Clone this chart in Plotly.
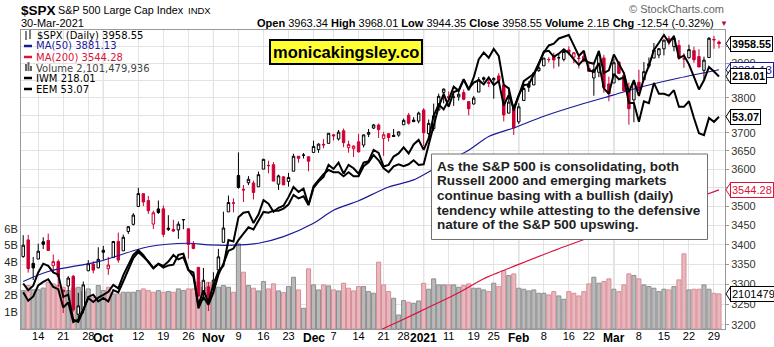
import math
import pandas as pd
import plotly.graph_objects as go

# ---------------- data ----------------
holidays = ["2020-11-26", "2020-12-25", "2021-01-01", "2021-01-18", "2021-02-15"]
dates = [d for d in pd.bdate_range("2020-09-09", "2021-03-30") if d.strftime("%Y-%m-%d") not in holidays]

opens = [3369.82, 3412.60, 3352.70, 3363.56, 3407.73, 3411.23, 3346.86, 3357.38, 3285.57, 3295.75, 3320.11, 3226.14, 3236.66, 3333.90, 3350.92, 3341.21,
         3385.87, 3338.94, 3367.27, 3408.74, 3384.56, 3434.28, 3453.00, 3500.02, 3534.01, 3515.47, 3453.72, 3493.50, 3493.66, 3439.38, 3439.91, 3438.50, 3464.90, 3441.42, 3403.15, 3342.48, 3277.17, 3293.59,
         3296.20, 3336.25, 3406.46, 3485.74, 3508.34, 3583.04, 3543.26, 3563.22, 3562.67, 3552.57, 3600.16, 3610.31, 3612.09, 3559.41, 3579.31, 3566.82, 3594.52, 3635.50, 3638.55, 3634.18,
         3645.87, 3653.78, 3668.28, 3670.94, 3694.73, 3683.05, 3705.98, 3659.13, 3656.08, 3675.27, 3666.41, 3696.25, 3713.65, 3722.39, 3684.28, 3698.08, 3693.42, 3694.03, 3723.03, 3750.01, 3736.19, 3733.27,
         3764.61, 3698.02, 3712.20, 3764.71, 3815.05, 3803.14, 3801.62, 3802.23, 3814.98, 3788.73, 3781.88, 3816.22, 3857.46, 3844.24, 3851.68, 3862.96, 3836.83, 3755.75, 3778.05,
         3731.17, 3791.84, 3840.27, 3836.66, 3878.30, 3892.59, 3910.49, 3920.78, 3916.40, 3911.65, 3939.61, 3918.50, 3915.86, 3921.16, 3885.55, 3857.07, 3873.71, 3915.80, 3839.66,
         3842.51, 3903.64, 3863.99, 3818.53, 3793.58, 3844.39, 3851.93, 3891.99, 3915.54, 3924.52, 3942.96, 3973.59, 3949.57, 3953.50, 3913.14, 3916.48, 3937.60, 3919.93, 3879.34, 3917.12, 3969.31, 3963.34]
highs = [3424.77, 3425.55, 3368.95, 3402.93, 3419.48, 3428.92, 3375.17, 3362.27, 3285.57, 3320.31, 3323.35, 3278.70, 3306.88, 3360.74, 3357.92, 3393.56,
         3397.18, 3369.10, 3409.57, 3431.56, 3426.26, 3447.28, 3482.34, 3549.85, 3534.01, 3527.94, 3489.08, 3515.76, 3502.42, 3476.93, 3464.86, 3460.53, 3466.46, 3441.42, 3409.51, 3342.48, 3341.05, 3304.93,
         3330.14, 3389.49, 3486.25, 3529.05, 3521.58, 3645.99, 3557.22, 3581.16, 3569.02, 3593.66, 3628.51, 3623.11, 3619.09, 3585.22, 3581.23, 3589.81, 3642.31, 3635.50, 3644.31, 3634.18,
         3678.45, 3670.96, 3682.73, 3699.20, 3697.41, 3708.45, 3712.39, 3678.49, 3665.91, 3697.61, 3695.29, 3711.27, 3725.12, 3726.70, 3702.90, 3698.26, 3711.24, 3703.82, 3740.51, 3756.12, 3744.63, 3760.20,
         3769.99, 3737.83, 3783.04, 3811.55, 3826.69, 3817.86, 3810.78, 3820.96, 3823.60, 3788.73, 3804.53, 3859.75, 3861.45, 3852.31, 3859.23, 3870.90, 3836.83, 3830.50, 3778.05,
         3784.32, 3843.09, 3847.51, 3872.42, 3894.56, 3915.77, 3918.35, 3931.50, 3925.99, 3937.23, 3950.43, 3933.61, 3921.98, 3930.41, 3902.92, 3895.98, 3928.65, 3925.02, 3861.08,
         3914.50, 3906.41, 3874.47, 3843.67, 3851.69, 3881.06, 3903.76, 3917.35, 3960.27, 3944.99, 3970.08, 3981.04, 3983.87, 3969.62, 3930.12, 3955.31, 3949.13, 3942.08, 3919.54, 3978.19, 3981.83, 3968.01]
lows = [3366.84, 3329.25, 3310.47, 3363.56, 3389.25, 3384.45, 3328.82, 3292.40, 3229.10, 3270.95, 3232.57, 3209.45, 3228.44, 3332.91, 3327.54, 3340.47,
        3361.39, 3323.69, 3367.27, 3354.54, 3384.56, 3428.15, 3450.00, 3499.61, 3500.86, 3480.55, 3440.89, 3480.45, 3419.93, 3435.65, 3433.06, 3415.34, 3440.45, 3364.86, 3388.71, 3268.89, 3259.82, 3233.94,
        3279.74, 3336.25, 3405.17, 3485.74, 3484.34, 3547.48, 3511.91, 3557.00, 3518.58, 3552.57, 3600.16, 3588.68, 3567.33, 3543.84, 3556.85, 3552.77, 3594.52, 3617.76, 3629.33, 3594.39,
        3645.87, 3644.84, 3657.17, 3670.94, 3678.88, 3678.83, 3660.54, 3645.18, 3633.40, 3645.84, 3659.62, 3688.57, 3710.87, 3685.84, 3636.48, 3676.16, 3689.28, 3689.32, 3723.03, 3723.31, 3730.21, 3726.88,
        3662.71, 3695.07, 3705.34, 3764.71, 3783.60, 3789.02, 3776.51, 3791.50, 3792.86, 3749.62, 3780.37, 3816.22, 3845.05, 3830.41, 3797.16, 3847.78, 3732.48, 3755.75, 3694.12,
        3725.62, 3791.84, 3816.68, 3836.66, 3874.93, 3892.59, 3902.64, 3884.94, 3890.39, 3905.78, 3923.85, 3900.43, 3885.03, 3903.07, 3874.71, 3805.59, 3859.60, 3814.04, 3789.54,
        3842.51, 3868.57, 3818.86, 3723.34, 3730.19, 3819.25, 3851.93, 3885.73, 3915.54, 3915.21, 3923.54, 3953.44, 3935.74, 3910.86, 3886.75, 3914.16, 3901.57, 3889.07, 3853.50, 3917.12, 3943.25, 3944.35]
closes = [3398.96, 3339.19, 3340.97, 3383.54, 3401.20, 3385.49, 3357.01, 3319.47, 3281.06, 3315.57, 3236.92, 3246.59, 3298.46, 3351.60, 3335.47, 3363.00,
          3380.80, 3348.42, 3408.60, 3360.97, 3419.44, 3446.83, 3477.14, 3534.22, 3511.93, 3488.67, 3483.34, 3483.81, 3426.92, 3443.12, 3435.56, 3453.49, 3465.39, 3400.97, 3390.68, 3271.03, 3310.11, 3269.96,
          3310.24, 3369.16, 3443.44, 3510.45, 3509.44, 3550.50, 3545.53, 3572.66, 3537.01, 3585.15, 3626.91, 3609.53, 3567.79, 3581.87, 3557.54, 3577.59, 3635.41, 3629.65, 3638.35, 3621.63,
          3662.45, 3669.01, 3666.72, 3699.12, 3691.96, 3702.25, 3672.82, 3668.10, 3663.46, 3647.49, 3694.62, 3701.17, 3722.48, 3709.41, 3694.92, 3687.26, 3690.01, 3703.06, 3735.36, 3727.04, 3732.04, 3756.07,
          3700.65, 3726.86, 3748.14, 3803.79, 3824.68, 3799.61, 3801.19, 3809.84, 3795.54, 3768.25, 3798.91, 3851.85, 3853.07, 3841.47, 3855.36, 3849.62, 3750.77, 3787.38, 3714.24,
          3773.86, 3826.31, 3830.17, 3871.74, 3886.83, 3915.59, 3911.23, 3909.88, 3916.38, 3934.83, 3932.59, 3931.33, 3913.97, 3906.71, 3876.50, 3881.37, 3925.43, 3829.34, 3811.15,
          3901.82, 3870.29, 3819.72, 3768.47, 3841.94, 3821.35, 3875.44, 3898.81, 3939.34, 3943.34, 3968.94, 3962.71, 3974.12, 3915.46, 3913.10, 3940.59, 3910.52, 3889.14, 3909.52, 3974.54, 3971.09, 3958.55]
prev_close_first = 3331.84

volume_b = [2.3, 2.6, 2.35, 2.35, 2.45, 2.8, 2.7, 2.6, 2.5, 2.3, 2.45, 2.5, 2.25, 2.4, 1.9, 2.6,
            2.3, 2.5, 2.1, 2.1, 2.2, 2.2, 2.2, 2.3, 2.4, 2.3, 2.2, 2.3, 2.2, 2.25, 2.2, 2.4, 2.3, 2.4, 2.4, 2.8, 2.5, 2.8,
            2.6, 2.5, 2.6, 2.5, 2.2, 5.1, 3.4, 2.6, 2.44, 2.28, 2.84, 2.4, 2.7, 2.28, 2.18, 2.54, 3.1, 2.34, 1.24, 3.6,
            2.64, 2.34, 2.64, 2.58, 2.34, 2.28, 2.74, 2.44, 2.28, 2.54, 2.54, 2.24, 2.14, 4.0, 2.64, 2.24, 1.84, 0.84, 1.7, 1.6, 1.54, 1.68,
            2.74, 2.38, 3.0, 2.64, 2.64, 2.64, 2.64, 2.5, 2.6, 2.7, 2.44, 2.44, 2.34, 2.24, 2.74, 2.54, 3.5, 3.2, 3.3,
            2.44, 2.38, 2.28, 2.34, 2.14, 2.14, 2.04, 2.24, 1.98, 1.78, 2.24, 2.14, 1.98, 2.24, 2.7, 3.1, 2.74, 2.84, 3.0,
            2.38, 2.24, 2.64, 3.3, 3.2, 3.0, 2.64, 2.54, 2.44, 2.24, 2.38, 2.34, 2.54, 2.94, 4.5, 2.34, 2.38, 2.38, 2.64, 2.38, 2.14, 2.101479936]

iwm = [150.5, 148.3, 149.4, 152.3, 153.2, 153.9, 151.9, 151.3, 146.6, 147.9, 143.0, 143.6, 146.1, 149.0, 148.0, 149.1,
       149.8, 150.6, 152.4, 151.5, 155.0, 157.8, 160.5, 161.8, 160.4, 158.5, 156.8, 158.0, 157.0, 157.6, 157.8, 160.5, 160.8, 156.5, 154.6, 147.2, 151.0, 148.0,
       152.5, 156.0, 157.5, 164.6, 164.2, 171.2, 172.5, 172.8, 169.5, 172.0, 176.3, 175.2, 172.8, 174.0, 174.6, 177.2, 180.3, 178.8, 179.8, 174.8,
       180.0, 182.0, 183.5, 187.3, 186.0, 188.0, 184.5, 187.3, 186.2, 184.5, 188.0, 188.5, 192.2, 191.2, 186.8, 187.3, 190.0, 191.0, 193.0, 191.0, 194.0, 195.5,
       192.2, 196.0, 203.8, 207.8, 206.0, 209.4, 214.2, 212.7, 216.8, 213.5, 215.7, 216.6, 215.1, 217.6, 214.8, 216.3, 207.4, 211.2, 206.4,
       211.2, 214.8, 215.0, 218.7, 222.5, 227.5, 227.8, 225.5, 226.7, 228.4, 226.9, 224.5, 222.4, 224.5, 223.3, 222.8, 227.8, 219.3, 220.3,
       226.4, 222.8, 219.3, 212.2, 216.6, 210.8, 217.3, 222.1, 228.2, 231.0, 234.1, 231.1, 233.6, 225.0, 226.0, 222.6, 217.6, 213.2, 216.6, 221.6, 219.9, 218.01]
eem = [44.9, 44.6, 44.8, 45.4, 45.8, 45.7, 45.4, 45.3, 44.3, 44.4, 43.3, 43.2, 43.7, 44.3, 44.4, 44.1,
       44.25, 44.1, 44.6, 44.5, 45.0, 45.5, 46.06, 46.34, 46.1, 45.9, 45.6, 45.8, 45.7, 45.9, 46.2, 46.0, 46.1, 45.5, 45.4, 43.8, 44.3, 43.95,
       44.5, 45.3, 45.8, 46.4, 46.5, 46.9, 47.2, 47.5, 47.4, 47.8, 48.24, 48.2, 48.3, 48.3, 48.4, 48.6, 49.07, 48.9, 49.0, 48.58,
       49.5, 49.8, 50.1, 50.31, 50.2, 50.2, 50.0, 50.2, 50.0, 50.0, 50.5, 50.7, 51.07, 50.8, 50.4, 50.2, 50.5, 50.6, 50.5, 50.6, 50.8, 50.56,
       50.6, 51.6, 52.6, 53.6, 54.3, 53.6, 54.4, 54.5, 55.1, 54.5, 55.2, 56.2, 56.6, 56.3, 56.8, 56.4, 54.8, 54.6, 53.4,
       54.2, 55.0, 55.2, 55.4, 56.0, 56.6, 57.0, 57.1, 57.4, 57.5, 57.6, 57.0, 56.4, 56.7, 55.6, 55.5, 56.0, 54.6, 54.3,
       55.4, 55.1, 55.2, 53.8, 53.8, 52.8, 53.9, 53.8, 54.9, 54.3, 54.3, 54.2, 54.5, 53.6, 53.6, 53.9, 53.0, 52.2, 52.1, 53.0, 52.8, 53.07]

ma50_dates = ["2020-09-09", "2020-09-16", "2020-09-30", "2020-10-14", "2020-10-26", "2020-10-30", "2020-11-06", "2020-11-13",
              "2020-11-20", "2020-12-01", "2020-12-07", "2020-12-14", "2020-12-22", "2020-12-30", "2021-01-11", "2021-01-15",
              "2021-01-22", "2021-01-29", "2021-02-08", "2021-02-18", "2021-03-01", "2021-03-09", "2021-03-18", "2021-03-30"]
ma50_vals = [3307, 3332, 3357, 3395, 3404, 3400, 3399, 3404, 3421, 3456, 3490, 3515, 3552, 3571, 3624, 3652,
             3690, 3714, 3747, 3779, 3808, 3833, 3857, 3881.13]
ma200_dates = ["2020-12-18", "2020-12-28", "2021-01-05", "2021-01-13", "2021-01-21", "2021-02-01", "2021-02-11",
               "2021-02-22", "2021-03-03", "2021-03-12", "2021-03-22", "2021-03-30"]
ma200_vals = [3186, 3214, 3243, 3279, 3314, 3350, 3390, 3418, 3452, 3487, 3515, 3544.28]

tick_dates = ["2020-09-14", "2020-09-21", "2020-09-28", "2020-10-01", "2020-10-12", "2020-10-19", "2020-10-26", "2020-11-02",
              "2020-11-09", "2020-11-16", "2020-11-23", "2020-12-01", "2020-12-07", "2020-12-14", "2020-12-21", "2020-12-28",
              "2021-01-04", "2021-01-11", "2021-01-19", "2021-01-25", "2021-02-01", "2021-02-08", "2021-02-16", "2021-02-22",
              "2021-03-01", "2021-03-08", "2021-03-15", "2021-03-22", "2021-03-29"]
tick_labels = ["14", "21", "28", "Oct", "12", "19", "26", "Nov", "9", "16", "23", "Dec", "7", "14", "21", "28",
               "2021", "11", "19", "25", "Feb", "8", "16", "22", "Mar", "8", "15", "22", "29"]
month_dates = ["2020-10-01", "2020-11-02", "2020-12-01", "2021-01-04", "2021-02-01", "2021-03-01"]
price_ticks = list(range(3200, 4000, 50))
vol_ticks = [1, 2, 3, 4, 5, 6]

# ---------------- helpers ----------------
W, H = 774, 347
PL, PR, PT, PB = 21, 725, 30, 329
def fx(xp): return (xp - PL) / (PR - PL)
def fy(yp): return (PB - yp) / (PB - PT)

date_str = [d.strftime("%Y-%m-%d") for d in dates]
idx = {s: i for i, s in enumerate(date_str)}
xs = list(range(len(dates)))

RED = "#cc0033"
NAVY = "#1a1a99"
MA200C = "#d8143c"
FONT = "Liberation Sans, Arial, sans-serif"

prev = [prev_close_first] + closes[:-1]
up_day = [c >= p for c, p in zip(closes, prev)]

fig = go.Figure()

vcol = ["#b9b9b9" if u else "#e8b8be" for u in up_day]
vline = ["#8e8e8e" if u else "#d98c96" for u in up_day]
fig.add_trace(go.Bar(x=xs, y=[v * 1e9 for v in volume_b], marker=dict(color=vcol, line=dict(color=vline, width=1)),
                     width=0.82, yaxis="y", hoverinfo="skip"))

for grp, col in ((True, "black"), (False, RED)):
    sel = [i for i in xs if up_day[i] == grp]
    fig.add_trace(go.Candlestick(
        x=sel, open=[opens[i] for i in sel], high=[highs[i] for i in sel],
        low=[lows[i] for i in sel], close=[closes[i] for i in sel], yaxis="y2",
        increasing=dict(line=dict(color=col, width=1), fillcolor="white"),
        decreasing=dict(line=dict(color=col, width=1), fillcolor=col),
        whiskerwidth=0, hoverinfo="skip"))

fig.add_trace(go.Scatter(x=[idx[d] for d in ma50_dates], y=ma50_vals, yaxis="y2", mode="lines",
                         line=dict(color=NAVY, width=1.2, shape="spline", smoothing=0.8), hoverinfo="skip"))
fig.add_trace(go.Scatter(x=[idx[d] for d in ma200_dates], y=ma200_vals, yaxis="y2", mode="lines",
                         line=dict(color=MA200C, width=1.2, shape="spline", smoothing=0.8), hoverinfo="skip"))
fig.add_trace(go.Scatter(x=xs, y=iwm, yaxis="y3", mode="lines", line=dict(color="black", width=2), hoverinfo="skip"))
fig.add_trace(go.Scatter(x=xs, y=eem, yaxis="y4", mode="lines", line=dict(color="black", width=2), hoverinfo="skip"))

def auto_log_range(vals, pb=0.0234, pt=0.0167):
    lo, hi = math.log10(min(vals)), math.log10(max(vals))
    s = (hi - lo) / (1 - pb - pt)
    return [lo - pb * s, lo - pb * s + s]

plo = math.log10(3190.3)
phi = math.log10(3999.5)
vol_top = 17.9e9
iwm_rng = auto_log_range(iwm)
eem_rng = auto_log_range(eem)

is_month = [d in month_dates for d in tick_dates]

fig.update_layout(
    template="none",
    width=W, height=H, margin=dict(l=PL, r=W - PR, t=PT, b=H - PB, autoexpand=False),
    paper_bgcolor="white", plot_bgcolor="white", showlegend=False,
    font=dict(family=FONT, size=11, color="black"),
    xaxis=dict(range=[-0.44, 140.2], tickvals=[idx[d] for d in tick_dates],
               ticktext=["" if m else t for t, m in zip(tick_labels, is_month)],
               showgrid=True, gridcolor="#e3e3e3", gridwidth=1, zeroline=False, ticks="", ticklen=0,
               ticklabelstandoff=-3, automargin=False,
               tickfont=dict(size=11, color="black"), showline=True, linecolor="#999", linewidth=1, mirror=True,
               rangeslider=dict(visible=False), fixedrange=True),
    yaxis=dict(range=[0, vol_top], tickvals=[v * 1e9 for v in vol_ticks], ticktext=[f"{v}B" for v in vol_ticks],
               showgrid=False, zeroline=False, side="left", ticks="", ticklen=0, automargin=False,
               tickfont=dict(size=11, color="#222"), showline=True, linecolor="#999", linewidth=1, mirror=True),
    yaxis2=dict(overlaying="y", side="right", type="log", range=[plo, phi], tickvals=price_ticks, automargin=False,
                ticktext=[str(t) for t in price_ticks], showgrid=True, gridcolor="#e3e3e3", gridwidth=1, zeroline=False,
                ticks="outside", ticklen=3, tickcolor="#999", tickfont=dict(size=11, color="#333")),
    yaxis3=dict(overlaying="y", type="log", range=iwm_rng, visible=False),
    yaxis4=dict(overlaying="y", type="log", range=eem_rng, visible=False),
    boxgap=0.3,
)

shapes = []
for d in month_dates:
    shapes.append(dict(type="line", xref="x", yref="paper", x0=idx[d], x1=idx[d], y0=0, y1=1,
                       line=dict(color="#b8b8b8", width=1), layer="below"))
shapes.append(dict(type="rect", xref="paper", yref="paper", x0=fx(431.5), x1=fx(707.5), y0=fy(239.5), y1=fy(154),
                   fillcolor="white", line=dict(color="#707070", width=1), layer="above"))
for col, yy in [(NAVY, 46), (MA200C, 57), ("black", 78), ("black", 89)]:
    shapes.append(dict(type="line", xref="paper", yref="paper", x0=fx(24), x1=fx(32), y0=fy(yy), y1=fy(yy),
                       line=dict(color=col, width=2.5)))
for xx, y0, y1 in [(26, 71, 64), (28.5, 71, 62), (31, 71, 66)]:
    shapes.append(dict(type="line", xref="paper", yref="paper", x0=fx(xx), x1=fx(xx), y0=fy(y0), y1=fy(y1),
                       line=dict(color="#666", width=2)))
for xx, y0, y1 in [(26, 40, 31), (30, 39, 30)]:
    shapes.append(dict(type="line", xref="paper", yref="paper", x0=fx(xx), x1=fx(xx), y0=fy(y0), y1=fy(y1),
                       line=dict(color="black", width=1)))

ann = []
def text(t, xp, yp, size=11, color="black", xanchor="left", family=FONT, **kw):
    ann.append(dict(text=t, xref="paper", yref="paper", x=fx(xp), y=fy(yp), xanchor=xanchor, yanchor="middle",
                    showarrow=False, font=dict(size=size, color=color, family=family), **kw))

for d, t, m in zip(tick_dates, tick_labels, is_month):
    if m:
        ann.append(dict(text=f"<b>{t}</b>", xref="x", yref="paper", x=idx[d], y=fy(337.5), xanchor="center",
                        yanchor="middle", showarrow=False, font=dict(size=12, color="black", family=FONT)))

text("<b>$SPX</b>", 19, 10, size=13.5)
text("S&P 500 Large Cap Index", 56, 10, size=10.8)
text("INDX", 186, 10, size=9.5)
text("30-Mar-2021", 19, 23, size=11)
text("<b>Open</b> 3963.34 <b>High</b> 3968.01 <b>Low</b> 3944.35 <b>Close</b> 3958.55 <b>Volume</b> 2.1B <b>Chg</b> -12.54 (-0.32%)",
     716, 23, size=11, xanchor="right")
text("▼", 718, 23, size=8, color="#aa1144")
text("© StockCharts.com", 726, 9, size=11, color="#666", xanchor="right")

LF = "DejaVu Sans, Verdana, sans-serif"
text("$SPX (Daily) 3958.55", 35, 35, size=10, family=LF)
text("MA(50) 3881.13", 34, 46, size=10, color=NAVY, family=LF)
text("MA(200) 3544.28", 34, 57, size=10, color=MA200C, family=LF)
text("Volume 2,101,479,936", 34, 68, size=10, color="#444", family=LF)
text("IWM 218.01", 34, 78.5, size=10, family=LF)
text("EEM 53.07", 34, 89, size=10, family=LF)

text("<b>monicakingsley.co</b>", 346, 52.5, size=16.5, xanchor="center", bgcolor="#ffff33",
     bordercolor="black", borderwidth=2, borderpad=2)

lines = ["As the S&P 500 is consolidating, both", "Russell 2000 and emerging markets",
         "continue basing with a bullish (daily)", "tendency while attesting to the defensive",
         "nature of the S&P 500 upswing."]
for k, ln in enumerate(lines):
    text(f"<b>{ln}</b>", 435, 166 + k * 14.7, size=13.5, color="#222")

# right-hand value tags with a pointer on their left side
def pix_log(v, rng):
    return PB - (math.log10(v) - rng[0]) / (rng[1] - rng[0]) * (PB - PT)

def tag(t, yref, yv, ypx, color, bold=False):
    ann.append(dict(text=(f"<b>{t}</b>" if bold else t), xref="paper", yref=yref, x=fx(730), y=yv,
                    xanchor="left", yanchor="middle", showarrow=False, bgcolor="white", bordercolor=color,
                    borderwidth=1, borderpad=1, font=dict(size=(10.8 if bold else 11), color=color, family=FONT)))
    p = (f"M {fx(730.5)} {fy(ypx - 7)} L {fx(726)} {fy(ypx)} L {fx(730.5)} {fy(ypx + 7)} Z")
    shapes.append(dict(type="path", xref="paper", yref="paper", path=p, fillcolor="white",
                       line=dict(color=color, width=1), layer="above"))

tag("3544.28", "y2", math.log10(ma200_vals[-1]), pix_log(ma200_vals[-1], [plo, phi]), MA200C)
tag(f"{int(volume_b[-1] * 1e9 // 1000):d}", "y", volume_b[-1] * 1e9, PB - volume_b[-1] * 1e9 / vol_top * (PB - PT), "black")
tag("53.07", "y4", math.log10(eem[-1]), pix_log(eem[-1], eem_rng), "black", bold=True)
tag("3881.13", "y2", math.log10(ma50_vals[-1]), pix_log(ma50_vals[-1], [plo, phi]), NAVY)
tag("218.01", "y3", math.log10(iwm[-1]), pix_log(iwm[-1], iwm_rng), "black", bold=True)
tag("3958.55", "y2", math.log10(closes[-1]), pix_log(closes[-1], [plo, phi]), "black", bold=True)

fig.update_layout(shapes=shapes, annotations=ann)
fig.write_html("out.html")
